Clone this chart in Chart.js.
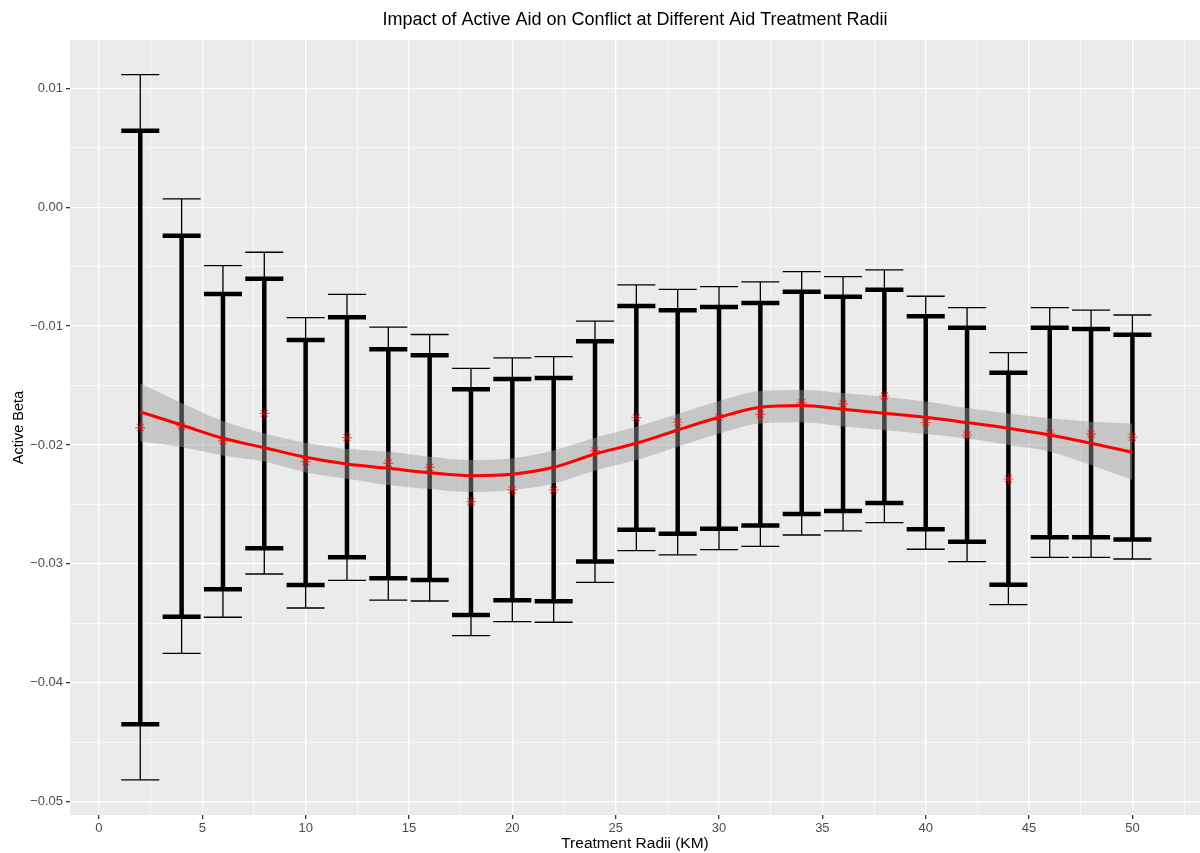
<!DOCTYPE html>
<html>
<head>
<meta charset="utf-8">
<script src="https://cdn.jsdelivr.net/npm/chart.js@4"></script>
<style>
  body { margin: 0; background: #fff; }
  canvas { display: block; }
</style>
</head>
<body>
<canvas id="grafico" width="1200" height="853"></canvas>
<script>
// treatment radii (km)
const radii = [2, 4, 6, 8, 10, 12, 14, 16, 18, 20, 22, 24, 26, 28, 30, 32, 34, 36, 38, 40, 42, 44, 46, 48, 50];

// point estimates (red asterisks)
const activeBeta = [-0.01854, -0.0184, -0.01966, -0.01734, -0.0214, -0.01938, -0.02154, -0.02188, -0.02477, -0.02378,
  -0.02378, -0.02048, -0.0177, -0.01809, -0.01767, -0.01742, -0.01644, -0.01655, -0.01588, -0.01812,
  -0.01916, -0.02286, -0.01902, -0.01907, -0.01935];

// thin error bars
const wideLow = [-0.04817, -0.03752, -0.03449, -0.03085, -0.03371, -0.03138, -0.03304, -0.03312, -0.03604, -0.03486,
  -0.03491, -0.03155, -0.02889, -0.02925, -0.0288, -0.02853, -0.02757, -0.02723, -0.02653, -0.02877,
  -0.02981, -0.03343, -0.02945, -0.02945, -0.02959];
const wideHigh = [0.01114, 0.00069, -0.00492, -0.00379, -0.00929, -0.00733, -0.01008, -0.01071, -0.01355, -0.01268,
  -0.01257, -0.00958, -0.00654, -0.00691, -0.00669, -0.00629, -0.00542, -0.00584, -0.00528, -0.00749,
  -0.00845, -0.01224, -0.00845, -0.00865, -0.00907];

// thick error bars
const narrowLow = [-0.04349, -0.03444, -0.03214, -0.02869, -0.03177, -0.02945, -0.03121, -0.03135, -0.0343, -0.03306,
  -0.03315, -0.0298, -0.02712, -0.02746, -0.02704, -0.02677, -0.0258, -0.02555, -0.02488, -0.02709,
  -0.02813, -0.03175, -0.02776, -0.02776, -0.02796];
const narrowHigh = [0.00643, -0.0024, -0.0073, -0.00603, -0.01117, -0.00926, -0.01195, -0.01246, -0.01532, -0.01445,
  -0.01437, -0.01128, -0.00831, -0.00867, -0.00839, -0.00806, -0.00711, -0.00753, -0.00694, -0.00918,
  -0.01015, -0.01392, -0.01015, -0.01024, -0.01072];

// smoothed fit + band
const smoothFit = [-0.01722, -0.01832, -0.01944, -0.02023, -0.02103, -0.0216, -0.02196, -0.02233, -0.02258, -0.02246,
  -0.02188, -0.02076, -0.01986, -0.01874, -0.01767, -0.01683, -0.01669, -0.017, -0.01733, -0.01767,
  -0.01812, -0.0186, -0.01916, -0.01986, -0.02061];
const smoothHigh = [-0.01483, -0.01647, -0.01798, -0.01903, -0.01981, -0.02034, -0.02056, -0.02098, -0.02126, -0.02112,
  -0.02046, -0.01939, -0.01846, -0.01739, -0.0163, -0.01546, -0.01537, -0.01563, -0.01594, -0.01634,
  -0.01689, -0.01735, -0.01776, -0.01804, -0.01819];
const smoothLow = [-0.01971, -0.02017, -0.02088, -0.0214, -0.02231, -0.02283, -0.02336, -0.0237, -0.02395, -0.02378,
  -0.02324, -0.02215, -0.02126, -0.02014, -0.01903, -0.01819, -0.01809, -0.01844, -0.01874, -0.01907,
  -0.01944, -0.02, -0.02056, -0.02168, -0.02294];

// ticks
const xTicks = [0, 5, 10, 15, 20, 25, 30, 35, 40, 45, 50];
const xMinorTicks = [2.5, 7.5, 12.5, 17.5, 22.5, 27.5, 32.5, 37.5, 42.5, 47.5, 52.5];
const yTicks = [-0.05, -0.04, -0.03, -0.02, -0.01, 0, 0.01];
const yMinorTicks = [-0.045, -0.035, -0.025, -0.015, -0.005, 0.005];

const capHalf = 0.92;

const pts = arr => radii.map((r, i) => ({ x: r, y: arr[i] }));
const isMajor = (v, list) => list.some(t => Math.abs(t - v) < 1e-9);

const fundoPainel = {
  id: 'fundoPainel',
  beforeDraw(chart) {
    const { ctx, chartArea: a } = chart;
    ctx.save();
    ctx.fillStyle = '#EBEBEB';
    ctx.fillRect(a.left, a.top, a.right - a.left, a.bottom - a.top);
    ctx.restore();
  }
};

const barrasErro = {
  id: 'barrasErro',
  beforeDatasetsDraw(chart) {
    const { ctx } = chart;
    const sx = chart.scales.x, sy = chart.scales.y;
    ctx.save();
    ctx.strokeStyle = '#000';
    ctx.lineCap = 'butt';
    const desenha = (low, high, lw) => {
      ctx.lineWidth = lw;
      radii.forEach((r, i) => {
        const x = sx.getPixelForValue(r);
        const x0 = sx.getPixelForValue(r - capHalf);
        const x1 = sx.getPixelForValue(r + capHalf);
        const yl = sy.getPixelForValue(low[i]);
        const yh = sy.getPixelForValue(high[i]);
        ctx.beginPath();
        ctx.moveTo(x, yl); ctx.lineTo(x, yh);
        ctx.moveTo(x0, yl); ctx.lineTo(x1, yl);
        ctx.moveTo(x0, yh); ctx.lineTo(x1, yh);
        ctx.stroke();
      });
    };
    desenha(wideLow, wideHigh, 1.3);
    desenha(narrowLow, narrowHigh, 4.5);
    ctx.restore();
  }
};

const fonte = 'Liberation Sans, Arial, sans-serif';

new Chart(document.getElementById('grafico'), {
  type: 'scatter',
  data: {
    datasets: [
      {
        type: 'scatter',
        data: pts(activeBeta),
        pointStyle: 'star',
        pointRadius: 5,
        borderColor: 'rgba(255, 0, 0, 0.6)',
        backgroundColor: 'rgba(255, 0, 0, 0.6)',
        borderWidth: 1.2,
        order: 0
      },
      {
        type: 'line',
        data: pts(smoothFit),
        borderColor: '#FF0000',
        borderWidth: 3,
        pointRadius: 0,
        cubicInterpolationMode: 'monotone',
        fill: false,
        order: 1
      },
      {
        type: 'line',
        data: pts(smoothHigh),
        borderWidth: 0,
        borderColor: 'rgba(0,0,0,0)',
        pointRadius: 0,
        cubicInterpolationMode: 'monotone',
        fill: false,
        order: 3
      },
      {
        type: 'line',
        data: pts(smoothLow),
        borderWidth: 0,
        borderColor: 'rgba(0,0,0,0)',
        pointRadius: 0,
        cubicInterpolationMode: 'monotone',
        backgroundColor: 'rgba(153, 153, 153, 0.45)',
        fill: '-1',
        order: 2
      }
    ]
  },
  options: {
    responsive: false,
    animation: false,
    events: [],
    layout: { padding: 0, autoPadding: false },
    plugins: {
      legend: { display: false },
      tooltip: { enabled: false },
      title: {
        display: true,
        fullSize: false,
        text: 'Impact of Active Aid on Conflict at Different Aid Treatment Radii',
        color: '#000',
        font: { family: fonte, size: 18, weight: 'normal' },
        padding: { top: 9, bottom: 9.4 }
      }
    },
    scales: {
      x: {
        type: 'linear',
        min: -1.4,
        max: 53.27,
        afterBuildTicks: s => { s.ticks = xTicks.concat(xMinorTicks).sort((a, b) => a - b).map(v => ({ value: v })); },
        afterFit: s => { s.height = 38; s.paddingLeft = 0; s.paddingRight = 0; },
        border: { display: false },
        grid: {
          color: '#FFFFFF',
          lineWidth: c => isMajor(c.tick.value, xTicks) ? 1.3 : 0.6,
          tickColor: c => isMajor(c.tick.value, xTicks) ? '#333333' : 'rgba(0,0,0,0)',
          tickLength: 4
        },
        ticks: {
          color: '#4D4D4D',
          font: { family: fonte, size: 13 },
          padding: 2,
          maxRotation: 0,
          autoSkip: false,
          callback: v => isMajor(v, xTicks) ? String(v) : ''
        },
        title: {
          display: true,
          text: 'Treatment Radii (KM)',
          color: '#000',
          font: { family: fonte, size: 15.5 },
          padding: { top: 0, bottom: 0 }
        }
      },
      y: {
        type: 'linear',
        min: -0.05112,
        max: 0.01406,
        afterBuildTicks: s => { s.ticks = yTicks.concat(yMinorTicks).sort((a, b) => a - b).map(v => ({ value: v })); },
        afterFit: s => { s.width = 70; },
        border: { display: false },
        grid: {
          color: '#FFFFFF',
          lineWidth: c => isMajor(c.tick.value, yTicks) ? 1.3 : 0.6,
          tickColor: c => isMajor(c.tick.value, yTicks) ? '#333333' : 'rgba(0,0,0,0)',
          tickLength: 4
        },
        ticks: {
          color: '#4D4D4D',
          font: { family: fonte, size: 13 },
          padding: 3,
          autoSkip: false,
          callback: v => isMajor(v, yTicks) ? v.toFixed(2).replace('-', '\u2212') : ''
        },
        title: {
          display: true,
          text: 'Active Beta',
          color: '#000',
          font: { family: fonte, size: 14.5 },
          padding: { top: 10, bottom: 0 }
        }
      }
    }
  },
  plugins: [fundoPainel, barrasErro]
});
</script>
</body>
</html>
